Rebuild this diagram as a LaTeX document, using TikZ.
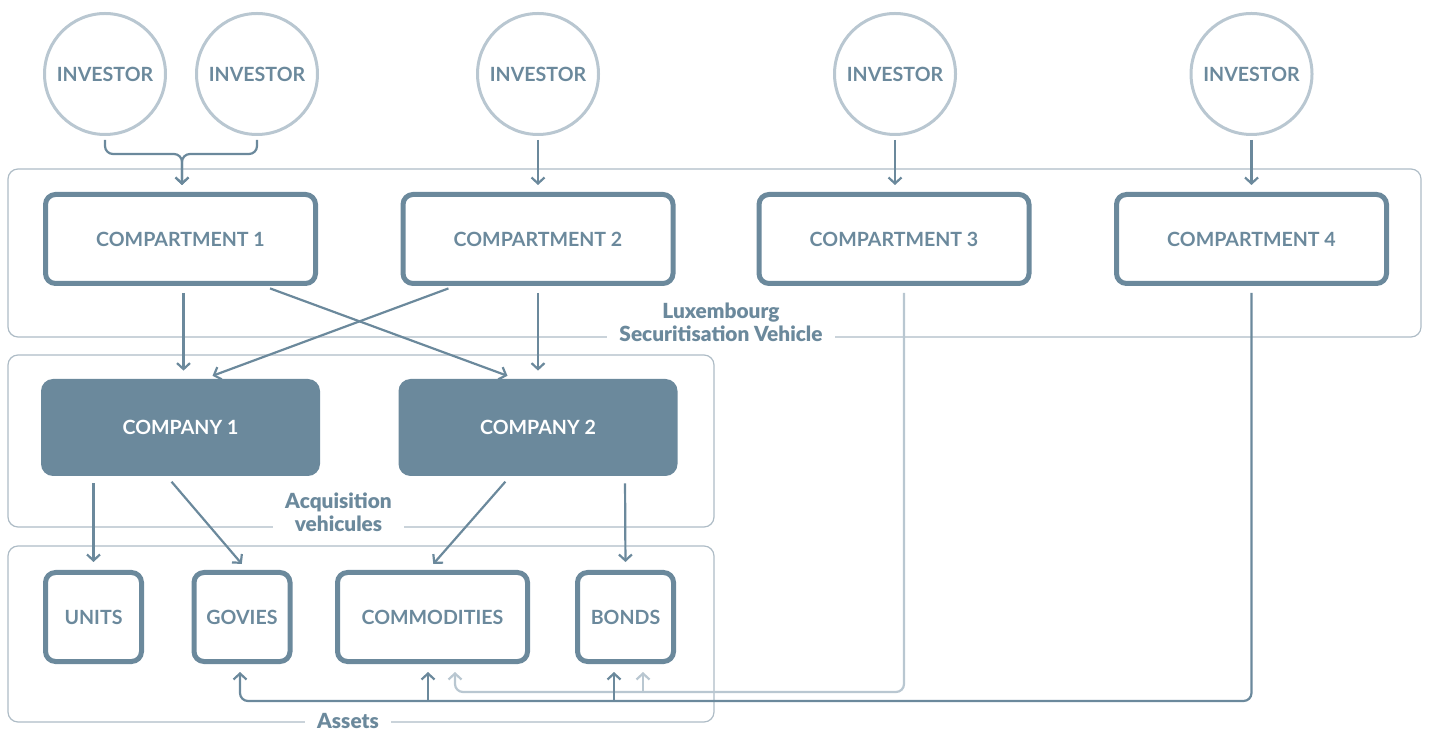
\documentclass[tikz,border=0pt]{standalone}
\usepackage{fontspec}
\setmainfont{Lato}
\newfontfamily\heavyfont{Lato Black}
\usetikzlibrary{arrows.meta}
\definecolor{slate}{HTML}{6B899C}
\definecolor{pale}{HTML}{B9C7D1}
\definecolor{frameline}{HTML}{AEBCC6}

\begin{document}
\begin{tikzpicture}[x=0.5pt,y=-0.5pt,
        font=\fontsize{9.8}{11.5}\selectfont\bfseries,
        investor/.style={circle,draw=pale,line width=1.5pt,minimum size=60.5pt,inner sep=0pt,text=slate},
        compartment/.style={draw=slate,line width=2.5pt,rounded corners=5pt,minimum width=135pt,minimum height=44.5pt,text=slate},
        company/.style={fill=slate,rounded corners=6pt,minimum width=139.5pt,minimum height=48.5pt,text=white},
        asset/.style={draw=slate,line width=2.5pt,rounded corners=5pt,minimum height=44.5pt,text=slate},
        group/.style={draw=frameline,line width=0.6pt,rounded corners=5pt},
        grouplabel/.style={fill=white,text=slate,align=center,inner xsep=6pt,inner ysep=1pt,
            font=\fontsize{10.4}{11.5}\heavyfont},
        link/.style={draw=slate,line width=1.1pt,shorten <=3.5pt,shorten >=4pt,
            -{Straight Barb[length=3pt,width=6.5pt]}},
        faint/.style={draw=pale}]
        \useasboundingbox (0,0) rectangle (1429,731);

        % group frames
        \draw[group] (8,169) rectangle (1421,337);
        \draw[group] (8,355) rectangle (714,527);
        \draw[group] (8,546) rectangle (714,722);

        % investors
        \node[investor] (inv1) at (105,74) {INVESTOR};
        \node[investor] (inv2) at (257,74) {INVESTOR};
        \node[investor] (inv3) at (538,74) {INVESTOR};
        \node[investor] (inv4) at (895,74) {INVESTOR};
        \node[investor] (inv5) at (1251.5,74) {INVESTOR};

        % compartments
        \node[compartment] (cpt1) at (180.5,239) {COMPARTMENT 1};
        \node[compartment] (cpt2) at (538,239) {COMPARTMENT 2};
        \node[compartment] (cpt3) at (894,239) {COMPARTMENT 3};
        \node[compartment] (cpt4) at (1251.5,239) {COMPARTMENT 4};

        % companies
        \node[company] (com1) at (180.5,427.5) {COMPANY 1};
        \node[company] (com2) at (538,427.5) {COMPANY 2};

        % assets
        \node[asset,minimum width=48pt] (units) at (93.5,617) {UNITS};
        \node[asset,minimum width=48pt] (govies) at (242,617) {GOVIES};
        \node[asset,minimum width=95pt] (commod) at (432.5,617) {COMMODITIES};
        \node[asset,minimum width=48pt] (bonds) at (625.5,617) {BONDS};

        % group labels
        \node[grouplabel] (lsv) at (721,322) {Luxembourg\\Securitisation Vehicle};
        \node[grouplabel] (acq) at (338.5,512) {Acquisition\\vehicules};
        \node[grouplabel] (ast) at (348,721) {Assets};

        % investors into compartments
        \coordinate (merge) at (182,154);
        \foreach \inv in {inv1,inv2}
            \draw[link,rounded corners=4pt,shorten <=2pt,shorten >=3.5pt] (\inv.south) |- (merge) -- (merge |- cpt1.north);
        \draw[link,shorten <=2pt,shorten >=3.5pt] (inv3.south) -- (inv3.south |- cpt2.north);
        \draw[link,shorten <=2pt,shorten >=3.5pt] (inv4.south) -- (inv4.south |- cpt3.north);
        \draw[link,shorten <=2pt,shorten >=3.5pt] (inv5.south) -- (inv5.south |- cpt4.north);

        % compartments into companies
        \draw[link] ([xshift=1.5pt]cpt1.south) -- ([xshift=1.5pt]com1.north);
        \draw[link] ([xshift=41.5pt]cpt1.south) -- ([xshift=-11.5pt]com2.north);
        \draw[link] ([xshift=-41.5pt]cpt2.south) -- ([xshift=12.25pt]com1.north);
        \draw[link] (cpt2.south) -- (com2.north);

        % companies into assets
        \draw[link] ([xshift=-43.5pt]com1.south) -- (units.north);
        \draw[link] ([xshift=-6.75pt]com1.south) -- ([xshift=2.5pt]govies.north);
        \draw[link] ([xshift=-14pt]com2.south) -- ([xshift=-2.25pt]commod.north);
        \draw[link] ([xshift=43.5pt]com2.south) -- (bonds.north);

        % direct holdings of compartments 3 and 4
        \coordinate (bend3) at (904,692);
        \coordinate (tap3) at (643,692);
        \coordinate (bend4) at (1251.5,701);
        \coordinate (tap4a) at (428,701);
        \coordinate (tap4b) at (614,701);
        \draw[link,faint,rounded corners=4pt] ([xshift=5pt]cpt3.south) -- (bend3) -| ([xshift=11.25pt]commod.south);
        \draw[link,faint,shorten <=0pt] (tap3) -- ([xshift=8.75pt]bonds.south);
        \draw[link,rounded corners=4pt] (cpt4.south) -- (bend4) -| ([xshift=-1pt]govies.south);
        \draw[link,shorten <=0pt] (tap4a) -- ([xshift=-2.25pt]commod.south);
        \draw[link,shorten <=0pt] (tap4b) -- ([xshift=-5.75pt]bonds.south);
    \end{tikzpicture}
\end{document}
